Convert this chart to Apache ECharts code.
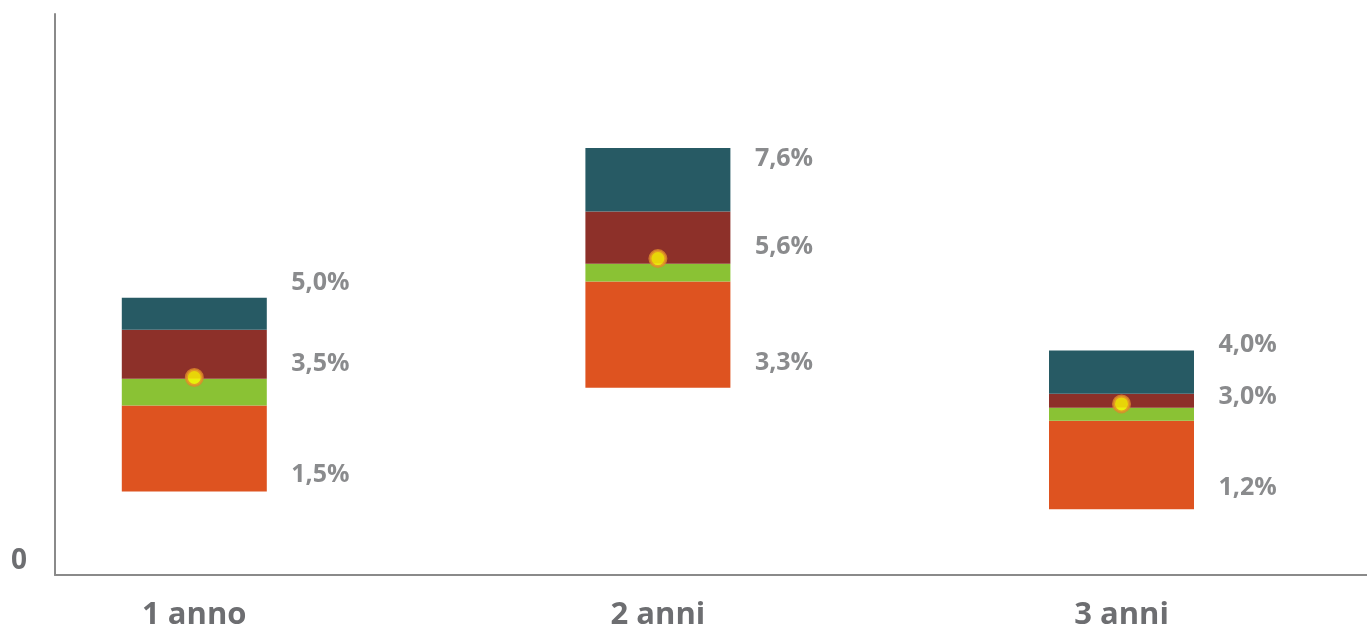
<!DOCTYPE html>
<html>
<head>
<meta charset="utf-8">
<script src="https://cdn.jsdelivr.net/npm/echarts@6/dist/echarts.min.js"></script>
<style>
html,body{margin:0;padding:0;background:#fff;}
#chart{width:1367px;height:626px;}
</style>
</head>
<body>
<div id="chart"></div>
<script>
// ---- data ----
const categories = ['1 anno', '2 anni', '3 anni'];
const rangeLow   = [1.49, 3.34, 1.17];   // bottom of each bar
const orangeTop  = [3.02, 5.23, 2.75];
const greenTop   = [3.50, 5.55, 2.98];
const redTop     = [4.37, 6.48, 3.23];
const rangeHigh  = [4.94, 7.61, 4.00];   // top of each bar
const pointValue = [3.52, 5.64, 3.05];   // yellow dot
const lowLabel   = [1.5, 3.3, 1.2];
const midLabel   = [3.5, 5.6, 3.0];
const highLabel  = [5.0, 7.6, 4.0];
const yTicks     = [0, 10];

// ---- layout / style (not data) ----
const lowOffsets  = [-16, -27, -20];
const midOffsets  = [-15, -14, -10];
const highOffsets = [-12, 10, -6];
const textColor = '#6D6E71';
const font = '"Open Sans", Lato, sans-serif';

const diff = (a, b) => a.map((v, i) => +(v - b[i]).toFixed(3));
const fmt = v => v.toFixed(1).replace('.', ',') + '%';

function labelSeries(vals, offs) {
  return {
    type: 'scatter', xAxisIndex: 1, yAxisIndex: 1, symbolSize: 0, silent: true, z: 5,
    data: vals.map((v, i) => ({
      value: v,
      label: { offset: [0, offs[i]] }
    })),
    label: {
      show: true, position: [97, 0], align: 'left', verticalAlign: 'middle',
      formatter: p => fmt(vals[p.dataIndex]),
      color: textColor, fontFamily: font, fontWeight: 'bold', fontSize: 25
    }
  };
}

const barCommon = { type: 'bar', stack: 'range', xAxisIndex: 1, yAxisIndex: 1, barWidth: 145, silent: true };

const option = {
  animation: false,
  backgroundColor: '#fff',
  grid: [
    { left: 55, right: 0, top: 14, bottom: 51, outerBoundsMode: 'none' },
    { left: -37.5, right: 13.7, top: 14, bottom: 51, outerBoundsMode: 'none' }
  ],
  xAxis: [
    { type: 'category', gridIndex: 0, data: categories.map(() => ''),
      axisLine: { show: true, lineStyle: { color: '#8A8A8A', width: 2 } },
      axisTick: { show: false }, axisLabel: { show: false }, splitLine: { show: false } },
    { type: 'category', gridIndex: 1, data: categories,
      axisLine: { show: false }, axisTick: { show: false }, splitLine: { show: false },
      axisLabel: { color: textColor, fontFamily: font, fontWeight: 'bold', fontSize: 31, margin: 25 } }
  ],
  yAxis: [
    { type: 'value', gridIndex: 0, min: yTicks[0], max: yTicks[yTicks.length - 1], interval: 10,
      axisLine: { show: true, lineStyle: { color: '#8A8A8A', width: 2 } },
      axisTick: { show: false }, splitLine: { show: false },
      axisLabel: { formatter: v => v === 0 ? '0' : '', color: textColor, fontFamily: font,
                   fontWeight: 'bold', fontSize: 28, margin: 28, verticalAlign: 'bottom' } },
    { type: 'value', gridIndex: 1, min: yTicks[0], max: yTicks[yTicks.length - 1], interval: 10, show: false }
  ],
  series: [
    Object.assign({}, barCommon, { name: 'base', data: rangeLow, itemStyle: { color: 'rgba(0,0,0,0)' } }),
    Object.assign({}, barCommon, { name: 'a', data: diff(orangeTop, rangeLow), itemStyle: { color: '#DE5320' } }),
    Object.assign({}, barCommon, { name: 'b', data: diff(greenTop, orangeTop), itemStyle: { color: '#8AC234' } }),
    Object.assign({}, barCommon, { name: 'c', data: diff(redTop, greenTop), itemStyle: { color: '#8D3029' } }),
    Object.assign({}, barCommon, { name: 'd', data: diff(rangeHigh, redTop), itemStyle: { color: '#275A64' } }),
    { type: 'scatter', xAxisIndex: 1, yAxisIndex: 1, data: pointValue, symbol: 'circle', symbolSize: 16, z: 10,
      itemStyle: { color: '#FFFF00', borderColor: '#E0892B', borderWidth: 3 }, silent: true },
    labelSeries(lowLabel, lowOffsets),
    labelSeries(midLabel, midOffsets),
    labelSeries(highLabel, highOffsets)
  ]
};

const chart = echarts.init(document.getElementById('chart'), null, { renderer: 'canvas' });
chart.setOption(option);
</script>
</body>
</html>
